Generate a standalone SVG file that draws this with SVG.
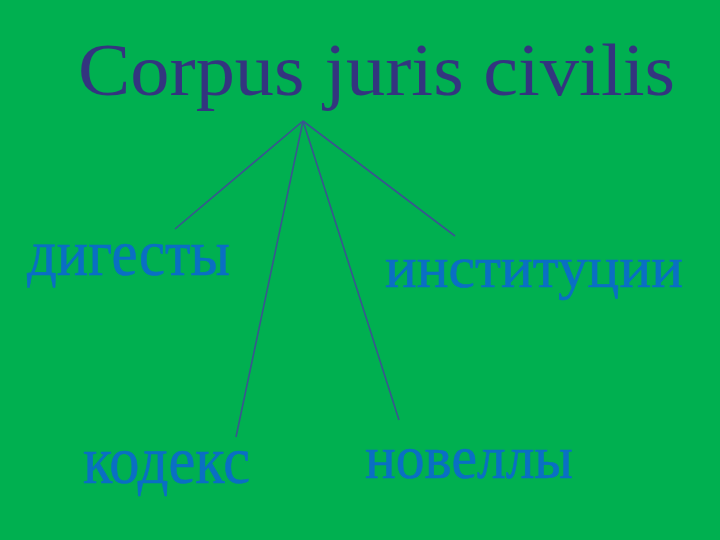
<svg xmlns="http://www.w3.org/2000/svg" width="720" height="540" viewBox="0 0 720 540">
<style>
.title{font-family:"Liberation Serif","DejaVu Serif",serif;font-size:74px;fill:#33357F}
.lbl{font-family:"Liberation Serif","DejaVu Serif",serif;fill:#0A6FC4;stroke:#0A6FC4;stroke-width:0.6}
.conn line{stroke:#3A5590;stroke-width:1.6}
</style>
<rect width="720" height="540" fill="#00B050"/>
<g id="title"><text class="title" x="78" y="95" textLength="597" lengthAdjust="spacingAndGlyphs">Corpus juris civilis</text></g>
<g id="connectors" class="conn">
<line x1="303" y1="121" x2="175" y2="229"/>
<line x1="303" y1="121" x2="455" y2="236"/>
<line x1="303" y1="121" x2="236" y2="437"/>
<line x1="303" y1="121" x2="399" y2="420"/>
</g>
<g id="digesty"><text class="lbl" x="27" y="275" font-size="66" textLength="203" lengthAdjust="spacingAndGlyphs">дигесты</text></g>
<g id="instituty"><text class="lbl" x="385" y="287" font-size="60" textLength="298" lengthAdjust="spacingAndGlyphs">институции</text></g>
<g id="kodeks"><text class="lbl" x="83" y="483" font-size="68" textLength="167" lengthAdjust="spacingAndGlyphs">кодекс</text></g>
<g id="novelly"><text class="lbl" x="365" y="478" font-size="62" textLength="208" lengthAdjust="spacingAndGlyphs">новеллы</text></g>
</svg>
